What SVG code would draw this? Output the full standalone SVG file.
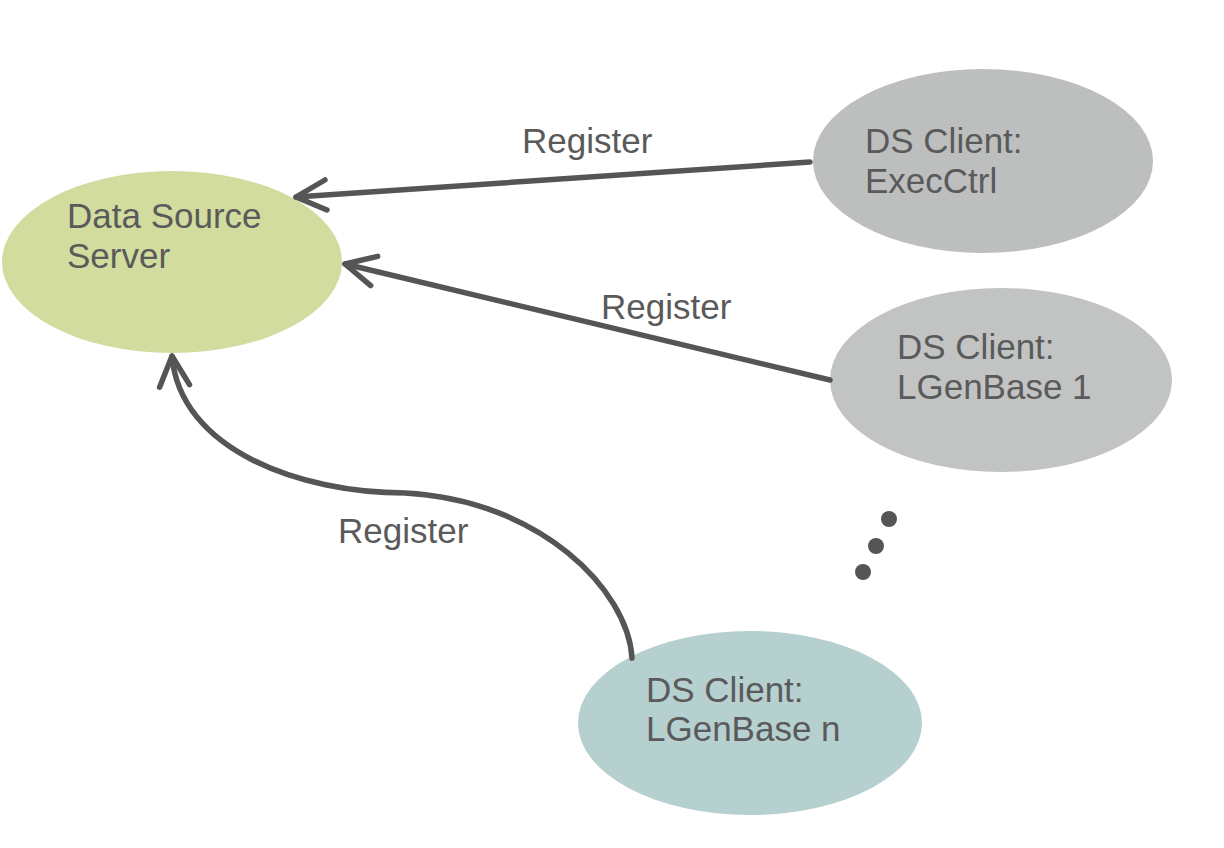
<svg xmlns="http://www.w3.org/2000/svg" width="1224" height="848" viewBox="0 0 1224 848">
<defs>
<style>
.lbl{font-family:"Liberation Sans",Arial,sans-serif;font-size:35px;fill:#5a5a5a}
.conn{fill:none;stroke:#555555;stroke-width:5.5;stroke-linecap:round}
</style>
<marker id="vhead" markerUnits="userSpaceOnUse" markerWidth="50" markerHeight="50" viewBox="-40 -25 50 50" refX="0" refY="0" orient="auto" overflow="visible">
<path d="M -30 -15 L 0 0 L -30 15" fill="none" stroke="#555555" stroke-width="5.5" stroke-linecap="round" stroke-linejoin="round"/>
</marker>
</defs>
<rect width="1224" height="848" fill="#ffffff"/>
<g id="server">
<ellipse cx="172" cy="262" rx="170" ry="91" fill="#d2dc9e"/>
<text class="lbl" x="67" y="228">Data Source</text>
<text class="lbl" x="67" y="268">Server</text>
</g>
<g id="execctrl">
<ellipse cx="983" cy="161" rx="170" ry="92" fill="#bdbfbf"/>
<text class="lbl" x="865" y="153">DS Client:</text>
<text class="lbl" x="865" y="193">ExecCtrl</text>
</g>
<g id="lgenbase1">
<ellipse cx="1001" cy="380" rx="171" ry="92" fill="#c2c4c4"/>
<text class="lbl" x="897" y="359">DS Client:</text>
<text class="lbl" x="897" y="399">LGenBase 1</text>
</g>
<g id="lgenbasen">
<ellipse cx="750" cy="723" rx="172" ry="92" fill="#b6cfcf"/>
<text class="lbl" x="646" y="702">DS Client:</text>
<text class="lbl" x="646" y="741">LGenBase n</text>
</g>
<g id="ellipsis">
<circle cx="889" cy="519" r="8" fill="#555555"/>
<circle cx="876" cy="546" r="8" fill="#555555"/>
<circle cx="863" cy="572" r="8" fill="#555555"/>
</g>
<g id="connectors">
<line class="conn" x1="810" y1="162" x2="296" y2="197" marker-end="url(#vhead)"/>
<line class="conn" x1="830" y1="380" x2="345" y2="264" marker-end="url(#vhead)"/>
<path class="conn" d="M 632 658 C 628 590 540 500 405 493 C 300 493 180 450 172 356" marker-end="url(#vhead)"/>
<text class="lbl" x="522" y="153">Register</text>
<text class="lbl" x="601" y="319">Register</text>
<text class="lbl" x="338" y="543">Register</text>
</g>
</svg>
